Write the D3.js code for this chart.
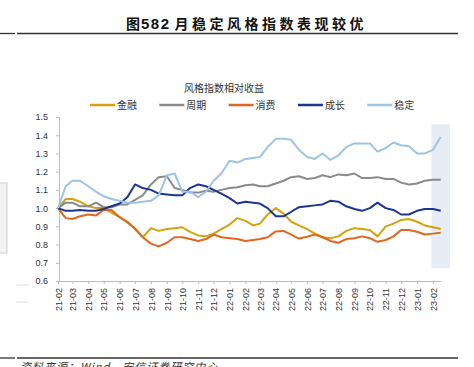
<!DOCTYPE html>
<html>
<head>
<meta charset="utf-8">
<script src="https://cdn.jsdelivr.net/npm/d3@7"></script>
<style>
  body { margin: 0; background: #fff; }
  svg { display: block; }
  text { font-family: "Liberation Sans", Arial, "Noto Sans CJK SC", sans-serif; }
</style>
</head>
<body>
<div id="chart"></div>
<script>
// 日期（每月1日、16日）
const dates = [
  '21-02-01','21-02-16','21-03-01','21-03-16','21-04-01','21-04-16','21-05-01','21-05-16',
  '21-06-01','21-06-16','21-07-01','21-07-16','21-08-01','21-08-16','21-09-01','21-09-16',
  '21-10-01','21-10-16','21-11-01','21-11-16','21-12-01','21-12-16','22-01-01','22-01-16',
  '22-02-01','22-02-16','22-03-01','22-03-16','22-04-01','22-04-16','22-05-01','22-05-16',
  '22-06-01','22-06-16','22-07-01','22-07-16','22-08-01','22-08-16','22-09-01','22-09-16',
  '22-10-01','22-10-16','22-11-01','22-11-16','22-12-01','22-12-16','23-01-01','23-01-16',
  '23-02-01','23-02-16'
];

const seriesNames = ['金融', '周期', '消费', '成长', '稳定'];

const finance = [1.00,1.05,1.05,1.035,1.01,1.00,1.00,0.975,0.95,0.92,0.89,0.84,0.89,0.875,0.885,0.89,
  0.895,0.87,0.85,0.845,0.86,0.885,0.91,0.945,0.93,0.905,0.915,0.965,1.00,0.97,0.925,0.905,
  0.885,0.86,0.84,0.835,0.845,0.875,0.89,0.885,0.88,0.845,0.90,0.915,0.935,0.94,0.925,0.905,0.895,0.885];

const cycle = [1.00,1.03,1.03,1.01,1.01,1.03,1.005,1.005,1.02,1.02,1.045,1.07,1.13,1.17,1.175,1.11,
  1.10,1.085,1.085,1.095,1.09,1.10,1.11,1.115,1.125,1.13,1.12,1.12,1.135,1.15,1.17,1.175,
  1.16,1.165,1.18,1.17,1.185,1.18,1.19,1.165,1.165,1.17,1.16,1.16,1.14,1.13,1.135,1.15,1.155,1.155];

const consumer = [1.00,0.945,0.94,0.955,0.965,0.96,0.99,0.99,0.95,0.925,0.885,0.84,0.805,0.79,0.81,0.84,
  0.84,0.83,0.82,0.83,0.855,0.84,0.835,0.83,0.82,0.825,0.83,0.84,0.872,0.875,0.855,0.833,
  0.843,0.855,0.84,0.82,0.81,0.83,0.835,0.845,0.835,0.815,0.825,0.845,0.88,0.88,0.87,0.855,0.86,0.865];

const growth = [1.00,0.985,0.985,0.99,0.985,0.985,0.995,1.01,1.025,1.06,1.13,1.11,1.10,1.08,1.075,1.07,
  1.07,1.11,1.13,1.12,1.10,1.08,1.055,1.025,1.035,1.03,1.025,1.00,0.955,0.955,0.98,1.005,
  1.01,1.015,1.02,1.04,1.035,1.01,0.995,0.985,1.00,1.03,1.00,0.99,0.965,0.965,0.985,0.995,0.995,0.985];

const stable = [1.00,1.12,1.15,1.15,1.12,1.09,1.065,1.05,1.04,1.03,1.03,1.035,1.04,1.07,1.18,1.19,
  1.09,1.09,1.06,1.09,1.15,1.19,1.26,1.25,1.27,1.275,1.28,1.335,1.38,1.38,1.375,1.32,
  1.28,1.27,1.30,1.265,1.29,1.335,1.355,1.355,1.355,1.31,1.33,1.36,1.345,1.34,1.30,1.30,1.32,1.39];

const yTicks = [0.6, 0.7, 0.8, 0.9, 1.0, 1.1, 1.2, 1.3, 1.4, 1.5];
const shadeRange = ['23-01-29', '23-03-06'];

const colors = ['#d4a20f', '#8a8a8a', '#e2661f', '#1c3594', '#9dc3e8'];

const width = 474, height = 367;
const parse = d3.timeParse('%y-%m-%d');
const dateObjs = dates.map(parse);
const allSeries = [finance, cycle, consumer, growth, stable];

const svg = d3.select('#chart').append('svg')
  .attr('width', width)
  .attr('height', height);

// 标题
const title = svg.append('text')
  .attr('x', 126)
  .attr('y', 29)
  .style('font-family', '"Noto Sans CJK SC", sans-serif')
  .style('font-weight', 'bold')
  .style('font-size', '14px')
  .attr('fill', '#111');
title.append('tspan').style('letter-spacing', '1px').text('图');
title.append('tspan')
  .style('font-family', '"Liberation Sans", Arial, sans-serif')
  .style('font-size', '15px')
  .style('letter-spacing', '1.5px')
  .text('582');
title.append('tspan').attr('dx', 4).style('letter-spacing', '3.5px').text('月稳定风格指数表现较优');

// 标题下横线
svg.append('line').attr('x1', 0).attr('x2', 15).attr('y1', 33.5).attr('y2', 33.5)
  .attr('stroke', '#333').attr('stroke-width', 1.3);
svg.append('line').attr('x1', 17).attr('x2', 458).attr('y1', 33.5).attr('y2', 33.5)
  .attr('stroke', '#333').attr('stroke-width', 1.3);

// 左侧残留痕迹
svg.append('rect').attr('x', -3).attr('y', 183).attr('width', 10).attr('height', 70)
  .attr('fill', '#f3f3f3').attr('stroke', '#cfcfcf');
svg.append('line').attr('x1', 16).attr('x2', 29).attr('y1', 285).attr('y2', 285).attr('stroke', '#dedede');
svg.append('line').attr('x1', 16).attr('x2', 29).attr('y1', 302).attr('y2', 302).attr('stroke', '#dedede');

// 比例尺
const x = d3.scaleTime()
  .domain([parse('21-02-01'), parse('23-02-16')])
  .range([58, 440.7]);

const y = d3.scaleLinear()
  .domain([0.6, 1.5])
  .range([281, 117]);

// 阴影区
svg.append('rect')
  .attr('x', x(parse(shadeRange[0])))
  .attr('width', x(parse(shadeRange[1])) - x(parse(shadeRange[0])))
  .attr('y', y(1.46))
  .attr('height', y(0.67) - y(1.46))
  .attr('fill', '#e6edf7');

// 图表标题
svg.append('text')
  .attr('x', 224)
  .attr('y', 92)
  .attr('text-anchor', 'middle')
  .style('font-size', '10px')
  .attr('fill', '#333')
  .text('风格指数相对收益');

// 图例
const legend = svg.append('g');
seriesNames.forEach((name, i) => {
  const lx = 90 + i * 69.3;
  legend.append('line')
    .attr('x1', lx).attr('x2', lx + 25)
    .attr('y1', 105).attr('y2', 105)
    .attr('stroke', colors[i]).attr('stroke-width', 2.5);
  legend.append('text')
    .attr('x', lx + 27).attr('y', 109)
    .style('font-size', '10px')
    .attr('fill', '#333')
    .text(name);
});

// Y轴
const yAxis = svg.append('g')
  .attr('transform', 'translate(59,0)')
  .call(d3.axisLeft(y).tickValues(yTicks).tickFormat(d3.format('.1f')).tickSize(3).tickPadding(8));
yAxis.select('.domain').attr('stroke', '#bdbdbd');
yAxis.selectAll('.tick line').attr('stroke', '#bdbdbd');
yAxis.selectAll('text')
  .style('font-size', '9px')
  .style('font-family', '"Liberation Sans", Arial, sans-serif')
  .attr('fill', '#333');

// X轴
const xAxis = svg.append('g')
  .attr('transform', 'translate(0,281)')
  .call(d3.axisBottom(x)
    .ticks(d3.timeMonth.every(1))
    .tickFormat(d3.timeFormat('%y-%m'))
    .tickSize(3)
    .tickSizeOuter(0));
xAxis.select('.domain').attr('stroke', '#bdbdbd');
xAxis.selectAll('.tick line').attr('stroke', '#bdbdbd');
xAxis.selectAll('text')
  .style('font-size', '9px')
  .style('font-family', '"Liberation Sans", Arial, sans-serif')
  .attr('fill', '#333')
  .style('text-anchor', 'end')
  .attr('transform', 'rotate(-90)')
  .attr('x', -7)
  .attr('y', 0)
  .attr('dy', '0.35em');

// 折线
const line = d3.line()
  .x((d, i) => x(dateObjs[i]))
  .y(d => y(d));

const lines = svg.append('g');
allSeries.forEach((values, i) => {
  lines.append('path')
    .datum(values)
    .attr('d', line)
    .attr('fill', 'none')
    .attr('stroke', colors[i])
    .attr('stroke-width', 2)
    .attr('stroke-linejoin', 'round');
});

// 底部横线与来源
svg.append('line').attr('x1', 0).attr('x2', 15).attr('y1', 358).attr('y2', 358)
  .attr('stroke', '#333').attr('stroke-width', 1.3);
svg.append('line').attr('x1', 17).attr('x2', 458).attr('y1', 358).attr('y2', 358)
  .attr('stroke', '#333').attr('stroke-width', 1.3);
svg.append('text')
  .attr('x', 20)
  .attr('y', 371)
  .style('font-family', '"Noto Sans CJK SC", sans-serif')
  .style('font-size', '11px')
  .style('font-style', 'italic')
  .style('letter-spacing', '1px')
  .attr('fill', '#333')
  .text('资料来源：Wind，安信证券研究中心');
</script>
</body>
</html>
